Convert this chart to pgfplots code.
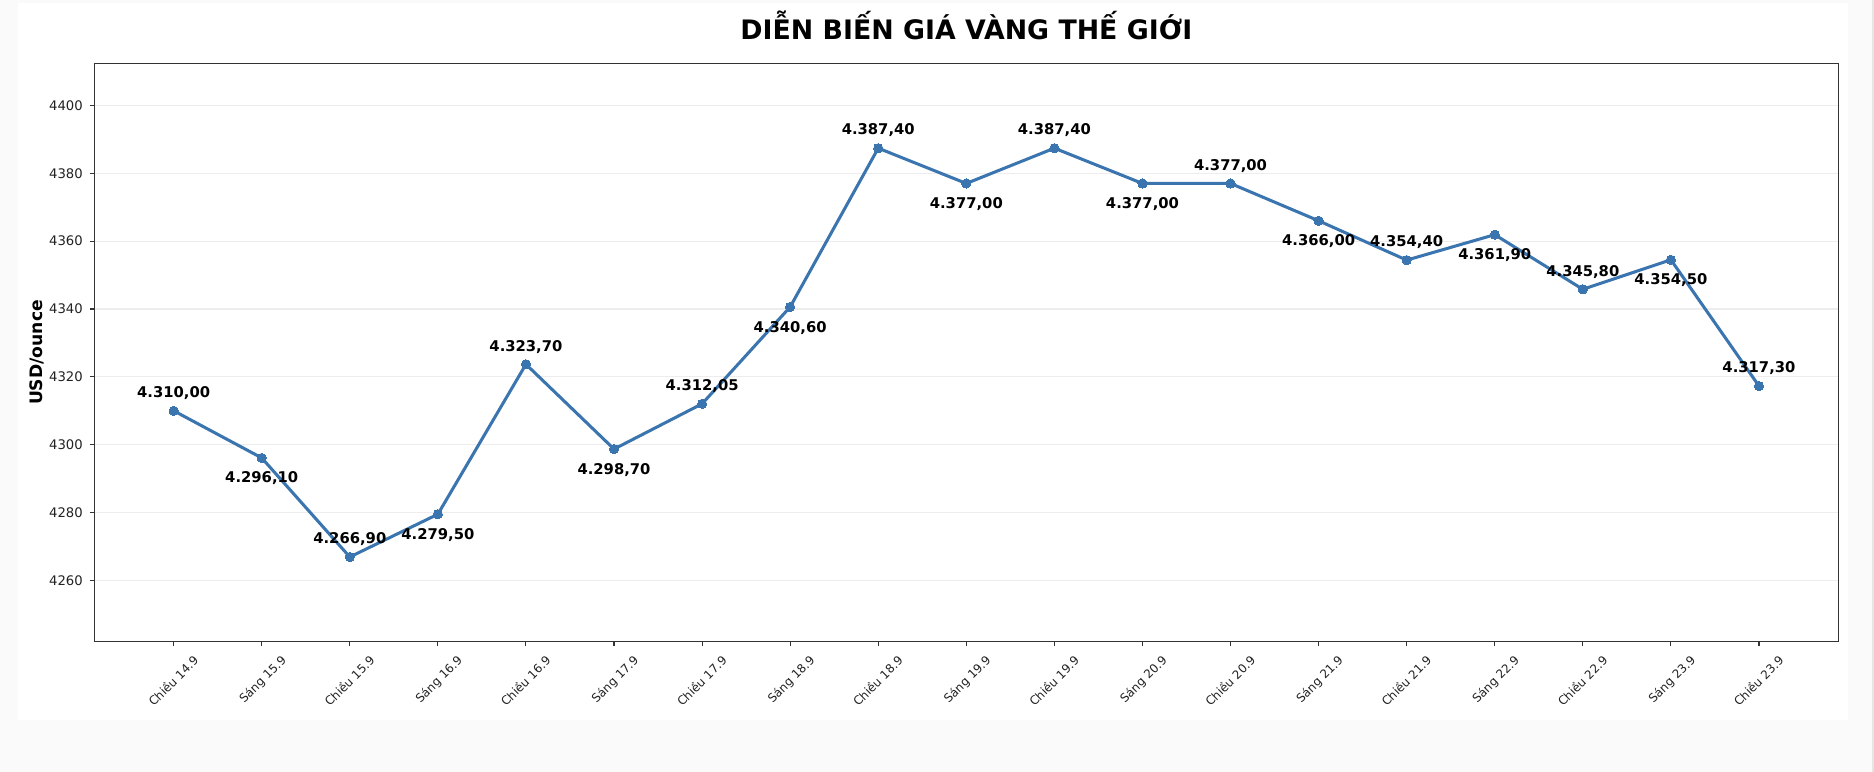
\documentclass[border=0pt]{standalone}
\usepackage{pgfplots}
\pgfplotsset{compat=1.18}
\usepackage{pgfplotstable}
\usepackage{fontspec}
\setmainfont{DejaVu Sans}

\definecolor{goldline}{HTML}{3B75AF}
\definecolor{pagebg}{HTML}{FAFAFA}
\definecolor{spine}{HTML}{333333}
\definecolor{gridc}{HTML}{EDEDED}
\definecolor{ticktext}{HTML}{222222}

% world gold price, USD/ounce
\pgfplotstableread{
idx price
0 4310.00
1 4296.10
2 4266.90
3 4279.50
4 4323.70
5 4298.70
6 4312.05
7 4340.60
8 4387.40
9 4377.00
10 4387.40
11 4377.00
12 4377.00
13 4366.00
14 4354.40
15 4361.90
16 4345.80
17 4354.50
18 4317.30
}\gold

\pgfplotsset{
  pricelabel/.style={draw=none, mark=none, point meta=y,
    nodes near coords={\pgfmathprintnumber[fixed, fixed zerofill,
      precision=2, use comma, 1000 sep={.}, assume math mode=true]{\pgfplotspointmeta}},
    nodes near coords style={font=\bfseries\fontsize{11.2}{13}\selectfont,
      text=black, inner sep=0pt, anchor=base, yshift=#1}},
}

\begin{document}
\begin{tikzpicture}
  % page and white card
  \fill[pagebg] (0,0) rectangle (1419.7pt,584.8pt);
  \fill[white] (13.6pt,39.3pt) rectangle (1400pt,582.5pt);
  \fill[gray!20] (1418pt,0) rectangle (1419.7pt,584.8pt);
  \begin{axis}[
    at={(71.5pt,98.6pt)}, anchor=south west,
    width=1321.1pt, height=438.2pt, scale only axis,
    xmin=-0.9, xmax=18.9,
    ymin=4241.9, ymax=4412.4,
    xtick={0,...,18},
    xticklabels={Chiều 14.9, Sáng 15.9, Chiều 15.9, Sáng 16.9, Chiều 16.9,
      Sáng 17.9, Chiều 17.9, Sáng 18.9, Chiều 18.9, Sáng 19.9, Chiều 19.9,
      Sáng 20.9, Chiều 20.9, Sáng 21.9, Chiều 21.9, Sáng 22.9, Chiều 22.9,
      Sáng 23.9, Chiều 23.9},
    ytick={4260,4280,...,4400},
    xtick pos=left, ytick pos=left,
    tick align=outside,
    major tick length=3.5pt,
    tick style={spine, line width=0.8pt},
    axis line style={spine, line width=0.8pt},
    ymajorgrids=true,
    grid style={gridc, line width=0.8pt},
    yticklabel style={font=\fontsize{10}{12}\selectfont, text=ticktext,
      xshift=-1.8pt,
      /pgf/number format/assume math mode=true,
      /pgf/number format/1000 sep={}},
    xticklabel style={font=\fontsize{9}{11}\selectfont, text=ticktext,
      inner sep=0pt, xshift=14pt, yshift=-5.8pt, rotate=45, anchor=north east},
    title={DIỄN BIẾN GIÁ VÀNG THẾ GIỚI},
    title style={font=\bfseries\fontsize{20.3}{24}\selectfont,
      anchor=base, at={(0.5,1)}, yshift=12.2pt},
    ylabel={USD/ounce},
    ylabel style={font=\bfseries\fontsize{13}{15}\selectfont,
      at={(axis description cs:-0.0329,0.5)}, anchor=center},
  ]
    \addplot[goldline, line width=2.3pt, mark=*, mark size=3.5pt,
      mark options={solid, fill=goldline, draw=goldline, line width=0pt}]
      table[x=idx, y=price] {\gold};
    % labels above (even points) and below (odd points)
    \addplot[pricelabel=10pt,
      x filter/.expression={mod(\coordindex,2)==0 ? x : nan}]
      table[x=idx, y=price] {\gold};
    \addplot[pricelabel=-19pt,
      x filter/.expression={mod(\coordindex,2)==1 ? x : nan}]
      table[x=idx, y=price] {\gold};
  \end{axis}
\end{tikzpicture}
\end{document}
